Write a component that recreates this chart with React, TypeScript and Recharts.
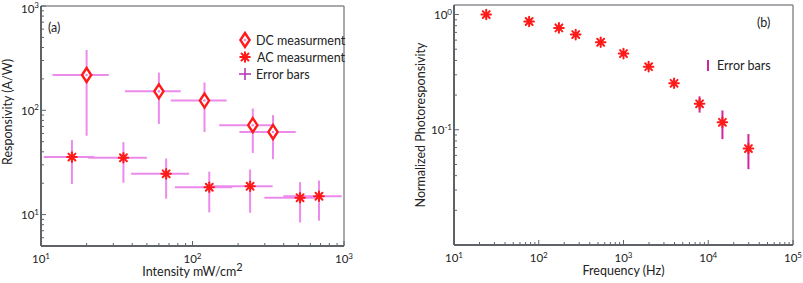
import { ScatterChart, Scatter, XAxis, YAxis, ErrorBar, ReferenceLine, Legend, Label } from "recharts"

const FONT = "Lato, 'Open Sans', sans-serif"
const AXIS = "#5f6368"
const BOX = "#8a8d90"

// (a) responsivity vs intensity
const dcIntensity = [20, 60, 120, 250, 340]
const dcIntensityLow = [11.9, 35.8, 71.8, 150, 204]
const dcIntensityHigh = [28, 83.6, 168, 341, 480]
const dcResp = [218, 152, 124, 72, 62]
const dcRespLow = [57, 74, 62, 39, 34]
const dcRespHigh = [378, 230, 185, 104, 90]

const acIntensity = [16, 35, 67, 129, 240, 513, 684]
const acIntensityLow = [10.4, 20.5, 39.3, 76.5, 137, 298, 398]
const acIntensityHigh = [22.5, 50, 95, 183, 338, 676, 966]
const acResp = [35.6, 35.1, 24.6, 18.3, 18.7, 14.5, 15.0]
const acRespLow = [19.6, 20.2, 14.2, 10.5, 10.4, 8.4, 8.75]
const acRespHigh = [52, 49.5, 34.5, 25.8, 27.1, 20.5, 21.2]

const intensityTicks = [10, 20, 30, 40, 50, 60, 70, 80, 90, 100, 200, 300, 400, 500, 600, 700, 800, 900, 1000]
const respTicks = [5, 6, 7, 8, 9, 10, 20, 30, 40, 50, 60, 70, 80, 90, 100, 200, 300, 400, 500, 600, 700, 800, 900, 1000]

// (b) normalized photoresponsivity vs frequency
const freq = [24, 77, 173, 273, 538, 1000, 1980, 3950, 7900, 14700, 29800]
const norm = [1.0, 0.87, 0.766, 0.67, 0.575, 0.458, 0.353, 0.253, 0.168, 0.116, 0.0687]
const normLow = [1.0, 0.87, 0.766, 0.67, 0.575, 0.458, 0.353, 0.253, 0.141, 0.083, 0.0455]
const normHigh = [1.0, 0.87, 0.766, 0.67, 0.575, 0.458, 0.353, 0.253, 0.195, 0.147, 0.0918]

const freqTicks = [10, 20, 30, 40, 50, 60, 70, 80, 90, 100, 200, 300, 400, 500, 600, 700, 800, 900, 1000,
  2000, 3000, 4000, 5000, 6000, 7000, 8000, 9000, 10000, 20000, 30000, 40000, 50000, 60000, 70000, 80000, 90000, 100000]
const normTicks = [0.01, 0.02, 0.03, 0.04, 0.05, 0.06, 0.07, 0.08, 0.09, 0.1, 0.2, 0.3, 0.4, 0.5, 0.6, 0.7, 0.8, 0.9, 1]
// the bottom decade of (b) has no printed label
const normUnlabelled = [0.01]

const toRows = (xs: number[], ys: number[], xl?: number[], xh?: number[], yl?: number[], yh?: number[]) =>
  xs.map((x, i) => ({
    x,
    y: ys[i],
    ex: xl && xh ? [x - xl[i], xh[i] - x] : [0, 0],
    ey: yl && yh ? [ys[i] - yl[i], yh[i] - ys[i]] : [0, 0],
  }))

const dcData = toRows(dcIntensity, dcResp, dcIntensityLow, dcIntensityHigh, dcRespLow, dcRespHigh)
const acData = toRows(acIntensity, acResp, acIntensityLow, acIntensityHigh, acRespLow, acRespHigh)
const freqData = toRows(freq, norm, undefined, undefined, normLow, normHigh)

function Star({ cx, cy }: { cx?: number; cy?: number }) {
  if (cx == null || cy == null) return null
  const r = 4.8
  const d = r * 0.72
  return (
    <g stroke="#ff1a1a" strokeWidth={2} strokeLinecap="round">
      <line x1={cx - r} y1={cy} x2={cx + r} y2={cy} />
      <line x1={cx} y1={cy - r} x2={cx} y2={cy + r} />
      <line x1={cx - d} y1={cy - d} x2={cx + d} y2={cy + d} />
      <line x1={cx - d} y1={cy + d} x2={cx + d} y2={cy - d} />
      <circle cx={cx} cy={cy} r={2.6} fill="#ff1a1a" stroke="none" />
    </g>
  )
}

function Diamond({ cx, cy }: { cx?: number; cy?: number }) {
  if (cx == null || cy == null) return null
  return (
    <g>
      <polygon points={`${cx},${cy - 7} ${cx + 4.6},${cy} ${cx},${cy + 7} ${cx - 4.6},${cy}`} fill="#fff" stroke="#ff1a1a" strokeWidth={2.4} />
      <circle cx={cx} cy={cy} r={1.3} fill="#e08ae0" />
    </g>
  )
}

function Pow({ x, y, exp, anchor }: { x: number; y: number; exp: number; anchor: "middle" | "end" }) {
  return (
    <text x={x} y={y} textAnchor={anchor} fontFamily={FONT} fontSize={11.5} fill="#222">
      10<tspan dy={-4.5} fontSize={8}>{exp}</tspan>
    </text>
  )
}

const logTick = (side: "x" | "y", unlabelled: number[] = []) => (props: any) => {
  const x = Number(props.x)
  const y = Number(props.y)
  const v = props.payload.value
  const e = Math.log10(v)
  const major = Math.abs(e - Math.round(e)) < 1e-6
  const showLabel = major && !unlabelled.includes(v)
  const len = major ? 5 : 3
  if (side === "x") {
    return (
      <g>
        <line x1={x} y1={y} x2={x} y2={y - len} stroke={AXIS} strokeWidth={1} />
        {showLabel && <Pow x={x} y={y + 17} exp={Math.round(e)} anchor="middle" />}
      </g>
    )
  }
  return (
    <g>
      <line x1={x} y1={y} x2={x + len} y2={y} stroke={AXIS} strokeWidth={1} />
      {showLabel && <Pow x={x - 2} y={Math.max(y + 4.5, 12.5)} exp={Math.round(e)} anchor="end" />}
    </g>
  )
}

function xTitle(text: React.ReactNode, dy: number) {
  return (props: any) => {
    const vb = props.viewBox || {}
    return (
      <text x={vb.x + vb.width / 2} y={vb.y + dy} textAnchor="middle" fontFamily={FONT} fontSize={12.5} fill="#222">
        {text}
      </text>
    )
  }
}

function yTitle(text: string, cx: number, cy: number) {
  return () => (
    <text x={cx} y={cy} textAnchor="middle" fontFamily={FONT} fontSize={12.5} fill="#222" transform={`rotate(-90 ${cx} ${cy})`}>
      {text}
    </text>
  )
}

function LegendA() {
  const t = { fontFamily: FONT, fontSize: 12.5, fill: "#222" }
  return (
    <svg width={360} height={283} style={{ pointerEvents: "none" }}>
      <text x={48} y={32} {...t}>(a)</text>
      <Diamond cx={245} cy={40} />
      <text x={256} y={44.5} {...t}>DC measurment</text>
      <Star cx={245} cy={57} />
      <text x={257} y={61.5} {...t}>AC measurment</text>
      <g stroke="#b83ab8" strokeWidth={1.6}>
        <line x1={239} y1={74} x2={251} y2={74} />
        <line x1={245} y1={68} x2={245} y2={80} />
      </g>
      <text x={256} y={78.5} {...t}>Error bars</text>
    </svg>
  )
}

function LegendB() {
  const t = { fontFamily: FONT, fontSize: 12.5, fill: "#222" }
  return (
    <svg width={403} height={283} style={{ pointerEvents: "none" }}>
      <text x={357} y={27} {...t}>(b)</text>
      <line x1={308} y1={60} x2={308} y2={71} stroke="#d0259f" strokeWidth={2} />
      <text x={317} y={70} {...t}>Error bars</text>
    </svg>
  )
}

export default function App() {
  return (
    <div style={{ position: "absolute", left: 0, top: 0, width: 803, height: 283, background: "#fff" }}>
      <div style={{ position: "absolute", left: 0, top: 0 }}>
        <ScatterChart width={360} height={283} margin={{ top: 6, right: 16, bottom: 0, left: 0 }}>
          <XAxis
            type="number"
            dataKey="x"
            scale="log"
            domain={[10, 1000]}
            allowDataOverflow
            ticks={intensityTicks}
            interval={0}
            tick={logTick("x")}
            tickSize={0}
            tickMargin={0}
            tickLine={false}
            height={37}
            axisLine={{ stroke: AXIS, strokeWidth: 2 }}
          >
            <Label content={xTitle(<>Intensity mW/cm<tspan dy={-5} fontSize={11}>2</tspan></>, 30)} />
          </XAxis>
          <YAxis
            type="number"
            dataKey="y"
            scale="log"
            domain={[5, 1000]}
            allowDataOverflow
            ticks={respTicks}
            interval={0}
            tick={logTick("y")}
            tickSize={0}
            tickMargin={0}
            tickLine={false}
            width={41}
            axisLine={{ stroke: AXIS, strokeWidth: 2 }}
          >
            <Label content={yTitle("Responsivity (A/W)", 12, 112)} />
          </YAxis>
          <ReferenceLine y={1000} stroke={BOX} strokeWidth={1.5} />
          <ReferenceLine x={1000} stroke={BOX} strokeWidth={1.5} />
          <Scatter data={acData} shape={(p: any) => <Star cx={p.cx} cy={p.cy} />} isAnimationActive={false}>
            <ErrorBar dataKey="ex" direction="x" width={0} stroke="#ec8bec" strokeWidth={2} isAnimationActive={false} />
            <ErrorBar dataKey="ey" direction="y" width={0} stroke="#ec8bec" strokeWidth={2} isAnimationActive={false} />
          </Scatter>
          <Scatter data={dcData} shape={(p: any) => <Diamond cx={p.cx} cy={p.cy} />} isAnimationActive={false}>
            <ErrorBar dataKey="ex" direction="x" width={0} stroke="#ec8bec" strokeWidth={2} isAnimationActive={false} />
            <ErrorBar dataKey="ey" direction="y" width={0} stroke="#ec8bec" strokeWidth={2} isAnimationActive={false} />
          </Scatter>
          <Legend
            layout="horizontal"
            verticalAlign="middle"
            align="center"
            wrapperStyle={{ left: 0, top: 0, width: 360, height: 283 }}
            content={() => <LegendA />}
          />
        </ScatterChart>
      </div>
      <div style={{ position: "absolute", left: 400, top: 0 }}>
        <ScatterChart width={403} height={283} margin={{ top: 5, right: 10, bottom: 0, left: 0 }}>
          <XAxis
            type="number"
            dataKey="x"
            scale="log"
            domain={[10, 100000]}
            allowDataOverflow
            ticks={freqTicks}
            interval={0}
            tick={logTick("x")}
            tickSize={0}
            tickMargin={0}
            tickLine={false}
            height={38}
            axisLine={{ stroke: AXIS, strokeWidth: 2 }}
          >
            <Label content={xTitle("Frequency (Hz)", 30)} />
          </XAxis>
          <YAxis
            type="number"
            dataKey="y"
            scale="log"
            domain={[0.01, 1.21]}
            allowDataOverflow
            ticks={normTicks}
            interval={0}
            tick={logTick("y", normUnlabelled)}
            tickSize={0}
            tickMargin={0}
            tickLine={false}
            width={54}
            axisLine={{ stroke: AXIS, strokeWidth: 2 }}
          >
            <Label content={yTitle("Normalized Photoresponsivity", 25, 125)} />
          </YAxis>
          <ReferenceLine y={1.21} stroke={BOX} strokeWidth={1.5} />
          <ReferenceLine x={100000} stroke={BOX} strokeWidth={1.5} />
          <Scatter data={freqData} shape={(p: any) => <Star cx={p.cx} cy={p.cy} />} isAnimationActive={false}>
            <ErrorBar dataKey="ey" direction="y" width={0} stroke="#d0259f" strokeWidth={2} isAnimationActive={false} />
          </Scatter>
          <Legend
            layout="horizontal"
            verticalAlign="middle"
            align="center"
            wrapperStyle={{ left: 0, top: 0, width: 403, height: 283 }}
            content={() => <LegendB />}
          />
        </ScatterChart>
      </div>
    </div>
  )
}
